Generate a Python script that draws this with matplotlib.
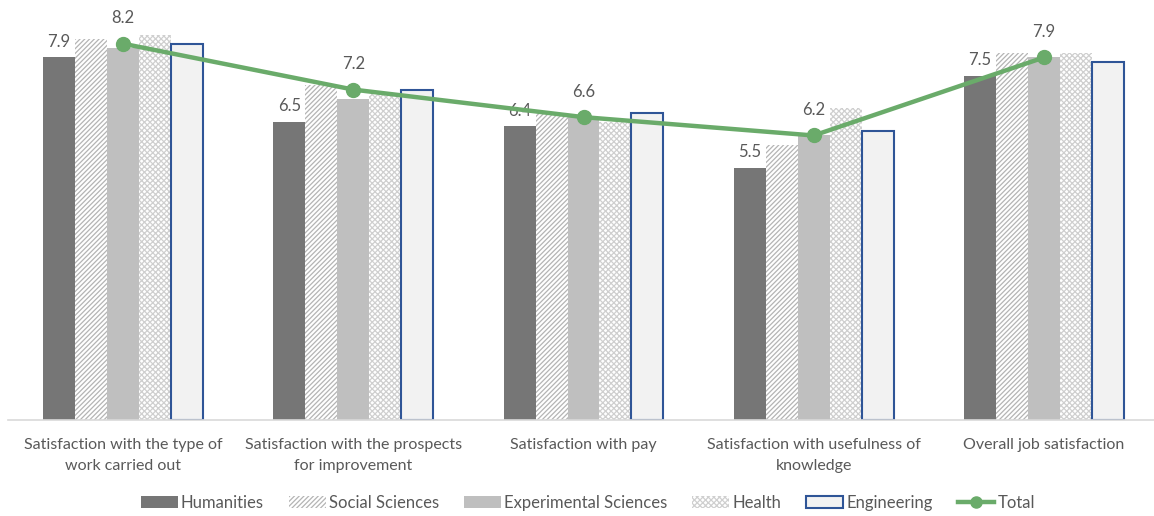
import matplotlib
matplotlib.use("Agg")
import matplotlib.pyplot as plt
import numpy as np
from matplotlib.patches import Patch
from matplotlib.lines import Line2D

categories = ["Satisfaction with the type of\nwork carried out",
              "Satisfaction with the prospects\nfor improvement",
              "Satisfaction with pay",
              "Satisfaction with usefulness of\nknowledge",
              "Overall job satisfaction"]
humanities = [7.9, 6.5, 6.4, 5.5, 7.5]
social = [8.3, 7.3, 6.7, 6.0, 8.0]
experimental = [8.1, 7.0, 6.6, 6.2, 7.9]
health = [8.4, 7.1, 6.5, 6.8, 8.0]
engineering = [8.2, 7.2, 6.7, 6.3, 7.8]
total = [8.2, 7.2, 6.6, 6.2, 7.9]
series_names = ["Humanities", "Social Sciences", "Experimental Sciences", "Health", "Engineering"]

plt.rcParams['font.family'] = ['Lato', 'DejaVu Sans']
plt.rcParams['hatch.linewidth'] = 0.9
txt = '#595959'

fig = plt.figure(figsize=(11.54, 5.16), dpi=100)
ax = fig.add_axes([8/1154, 96/516, 1151/1154, (420-7)/516])

x = np.arange(len(categories))
w = 0.139
offs = (np.arange(5) - 2) * w

styles = [
    dict(color='#767676', linewidth=0),
    dict(facecolor='white', edgecolor='#b4b4b4', hatch='///////', linewidth=0),
    dict(color='#bfbfbf', linewidth=0),
    dict(facecolor='white', edgecolor='#cfcfcf', hatch='xxxxxx', linewidth=0),
    dict(facecolor='#f2f2f2', edgecolor='#2f5597', linewidth=1.5),
]
data = [humanities, social, experimental, health, engineering]
handles = []
for i, (vals, st) in enumerate(zip(data, styles)):
    ax.bar(x + offs[i], vals, w, **st, zorder=2)
    handles.append(Patch(**st, label=series_names[i]))

for xi, v in zip(x + offs[0], humanities):
    ax.text(xi, v + 0.17, f"{v:.1f}", ha='center', va='bottom', fontsize=12, color=txt)

ax.plot(x, total, color='#6aab6a', linewidth=3.2, marker='o', markersize=10, zorder=4)
for xi, v in zip(x, total):
    ax.text(xi, v + 0.38, f"{v:.1f}", ha='center', va='bottom', fontsize=12, color=txt)
handles.append(Line2D([0], [0], color='#6aab6a', linewidth=3.2, marker='o', markersize=8, label='Total'))

ax.set_xlim(-0.5, 4.5)
ax.set_ylim(0, 9)
ax.set_yticks([])
ax.set_xticks(x)
ax.set_xticklabels(categories, fontsize=11.5, color=txt, linespacing=1.6)
ax.tick_params(axis='x', length=0, pad=13)
for s in ['top', 'right', 'left']:
    ax.spines[s].set_visible(False)
ax.spines['bottom'].set_color('#d9d9d9')
ax.spines['bottom'].set_linewidth(1.2)

fig.legend(handles=handles, loc='center', bbox_to_anchor=(0.5 + 11/1154, 1 - 503/516), ncol=6,
           frameon=False, fontsize=12, labelcolor=txt, handlelength=2.2, handleheight=0.75,
           columnspacing=1.5, handletextpad=0.2)

fig.savefig("out.png", dpi=100)
